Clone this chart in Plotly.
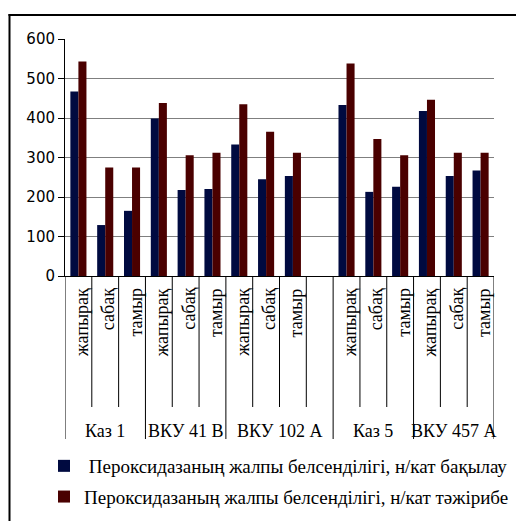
import plotly.graph_objects as go

groups = ["Каз 1", "ВКУ 41 В", "ВКУ 102 А", "Каз 5", "ВКУ 457 А"]
group_parts = [
    ["жапырақ", "сабақ", "тамыр"],
    ["жапырақ", "сабақ", "тамыр"],
    ["жапырақ", "сабақ", "тамыр", ""],
    ["жапырақ", "сабақ", "тамыр"],
    ["жапырақ", "сабақ", "тамыр"],
]
control = [467, 129, 165, 399, 218, 220, 333, 245, 253, None, 433, 213, 226, 418, 253, 267]
experiment = [543, 275, 275, 438, 306, 312, 435, 365, 312, None, 538, 347, 306, 446, 312, 312]
series_names = [
    " Пероксидазаның жалпы белсенділігі, н/кат бақылау",
    "Пероксидазаның жалпы белсенділігі, н/кат тәжірибе",
]
colors = ["#000A40", "#4A0000"]
y_ticks = [0, 100, 200, 300, 400, 500, 600]

labels = [p for parts in group_parts for p in parts]
xpos = [i + 0.5 for i in range(len(labels))]

fig = go.Figure()
for k, (name, vals) in enumerate(zip(series_names, [control, experiment])):
    fig.add_trace(go.Bar(
        x=xpos, y=vals, name=name, marker_color=colors[k],
        marker_line_width=0, legendgroup=str(k),
    ))

W, H = 516, 521
L, R, T, B = 65, 22, 39, 245
pw, ph = W - L - R, H - T - B

def py(pix):
    return (H - B - pix) / ph

def px(pix):
    return (pix - L) / pw

shapes = []
annotations = []
# category separators
bounds = [0]
for parts in group_parts:
    for _ in parts:
        bounds.append(bounds[-1] + 1)
group_bounds = [0]
for parts in group_parts:
    group_bounds.append(group_bounds[-1] + len(parts))
for b in bounds:
    yb = py(439) if b in group_bounds else py(407)
    shapes.append(dict(type="line", xref="x", yref="paper", x0=b, x1=b, y0=0, y1=yb,
                       line=dict(color="#000000", width=1)))
# inner labels
for i, lab in enumerate(labels):
    if lab:
        annotations.append(dict(x=i + 0.5, y=py(286), xref="x", yref="paper", text=lab,
                                textangle=-90, showarrow=False, xanchor="center", yanchor="top",
                                xshift=3,
                                font=dict(family="Liberation Serif", size=18, color="#000000")))
# group labels
for g, name in enumerate(groups):
    xc = (group_bounds[g] + group_bounds[g + 1]) / 2
    annotations.append(dict(x=xc, y=py(431), xref="x", yref="paper", text=name,
                            showarrow=False, xanchor="center", yanchor="middle",
                            font=dict(family="Liberation Serif", size=18, color="#000000")))
# outer border: left and top edges
shapes.append(dict(type="line", xref="paper", yref="paper", x0=px(9.5), x1=px(9.5),
                   y0=py(14), y1=py(521), line=dict(color="#000000", width=2)))
shapes.append(dict(type="line", xref="paper", yref="paper", x0=px(8.5), x1=px(516),
                   y0=py(15), y1=py(15), line=dict(color="#000000", width=2)))

fig.update_layout(
    width=W, height=H,
    margin=dict(l=L, r=R, t=T, b=B, autoexpand=False),
    paper_bgcolor="white", plot_bgcolor="white",
    barmode="group", bargap=0.4, bargroupgap=0,
    showlegend=True,
    legend=dict(x=px(44), y=py(516), xanchor="left", yanchor="bottom",
                font=dict(family="Liberation Serif", size=19, color="#000000"),
                tracegroupgap=3, traceorder="grouped", bgcolor="rgba(0,0,0,0)"),
    xaxis=dict(range=[0, len(labels)], showticklabels=False, showgrid=False,
               zeroline=False, showline=True, linecolor="#000000", linewidth=1, ticks=""),
    yaxis=dict(range=[0, 600], tickvals=y_ticks, showgrid=True, gridcolor="#7f7f7f",
               gridwidth=1, zeroline=False, showline=True, linecolor="#000000", linewidth=1,
               ticks="outside", ticklen=6, tickcolor="#000000",
               tickfont=dict(family="DejaVu Sans", size=15, color="#000000")),
    shapes=shapes, annotations=annotations,
)
fig.write_html("out.html")
